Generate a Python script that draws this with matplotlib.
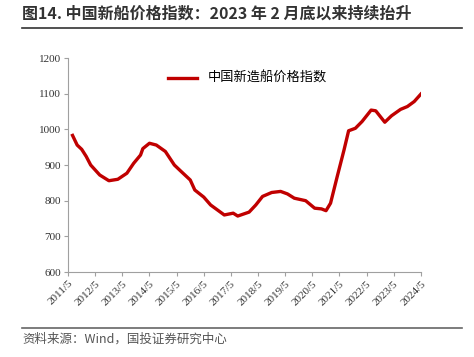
import matplotlib
matplotlib.use("Agg")
import matplotlib.pyplot as plt
import pandas as pd

plt.rcParams['font.family'] = ['Noto Sans CJK SC', 'DejaVu Sans']

# 中国新造船价格指数
dates = ["2011-07", "2011-09", "2011-11", "2012-01", "2012-03", "2012-07", "2012-11",
         "2013-03", "2013-07", "2013-10", "2014-01", "2014-02", "2014-05", "2014-08",
         "2014-12", "2015-04", "2015-07", "2015-11", "2016-01", "2016-05", "2016-08",
         "2017-02", "2017-06", "2017-08", "2018-01", "2018-04", "2018-07", "2018-11",
         "2019-03", "2019-06", "2019-09", "2020-02", "2020-06", "2020-09", "2020-11",
         "2021-01", "2021-04", "2021-07", "2021-09", "2021-12", "2022-03", "2022-07",
         "2022-09", "2023-01", "2023-04", "2023-08", "2023-11", "2024-02", "2024-05"]
index = [983, 956, 944, 924, 900, 872, 856,
         860, 877, 905, 928, 946, 961, 956,
         938, 900, 882, 858, 830, 810, 788,
         760, 765, 757, 768, 788, 812, 823,
         826, 819, 807, 800, 779, 777, 772,
         793, 868, 942, 996, 1003, 1022, 1054,
         1052, 1020, 1038, 1056, 1064, 1078, 1099]
tick_labels = [f"{y}/5" for y in range(2011, 2025)]

x = pd.to_datetime(dates)
ticks = pd.to_datetime([f"{y}-05-01" for y in range(2011, 2025)])

fig = plt.figure(figsize=(4.74, 3.57), dpi=100)
ax = fig.add_axes([0.1435, 0.238, 0.7445, 0.5995])

ax.plot(x, index, color='#C00000', lw=2.4, label='中国新造船价格指数')

ax.set_ylim(600, 1200)
ax.set_yticks(range(600, 1201, 100))
ax.set_xlim(ticks[0], ticks[-1])
ax.set_xticks(ticks)
ax.set_xticklabels(tick_labels, rotation=45, ha='right', rotation_mode='anchor')

for lab in ax.get_xticklabels() + ax.get_yticklabels():
    lab.set_family('Liberation Serif')
    lab.set_fontsize(8)
    lab.set_color('#333333')

for s in ['top', 'right']:
    ax.spines[s].set_visible(False)
for s in ['left', 'bottom']:
    ax.spines[s].set_color('#A0A0A0')
ax.tick_params(color='#A0A0A0', length=3, pad=2)

ax.legend(loc='upper left', bbox_to_anchor=(0.25, 0.99), frameon=False,
          handlelength=2.2, prop={'family': ['Noto Sans CJK SC'], 'size': 9.5})

fig.text(0.047, 0.963, '图14. 中国新船价格指数：2023 年 2 月底以来持续抬升',
         fontsize=11.5, fontweight='bold', color='#333333', va='center')
fig.add_artist(plt.Line2D([0.047, 0.975], [0.921, 0.921], color='#333333', lw=1.2))
fig.add_artist(plt.Line2D([0.047, 0.975], [0.081, 0.081], color='#666666', lw=1.2))
fig.text(0.047, 0.05, '资料来源：Wind，国投证券研究中心', fontsize=9, style='italic',
         color='#555555', va='center')

fig.savefig('out.png', dpi=100)
